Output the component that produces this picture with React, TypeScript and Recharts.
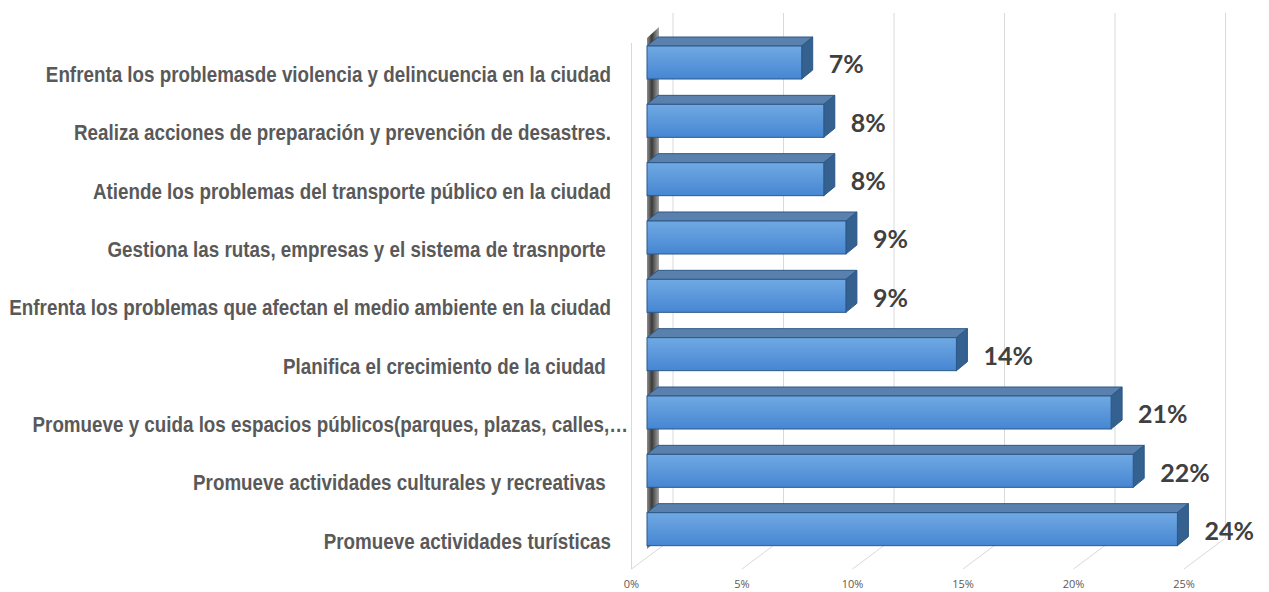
import { BarChart, Bar, XAxis, YAxis, CartesianGrid, LabelList } from 'recharts';

const categories = [
  'Enfrenta los problemasde violencia y delincuencia en la ciudad',
  'Realiza acciones de preparación y prevención de desastres.',
  'Atiende los problemas del transporte público en la ciudad',
  'Gestiona las rutas, empresas y el sistema de trasnporte ',
  'Enfrenta los problemas que afectan el medio ambiente en la ciudad',
  'Planifica el crecimiento de la ciudad ',
  'Promueve y cuida los espacios públicos(parques, plazas, calles,…',
  'Promueve actividades culturales y recreativas ',
  'Promueve actividades turísticas',
];
const values = [7, 8, 8, 9, 9, 14, 21, 22, 24];
const xTicks = [0, 5, 10, 15, 20, 25];

const chartData = categories.map((name, i) => ({ name, value: values[i] }));

// fake 3D depth
const DX = 11;
const DY = 9;

function Bar3D(props: any) {
  const { x, y, width, height, index } = props;
  const id = `front${index}`;
  return (
    <g>
      <defs>
        <linearGradient id={id} x1="0" y1="0" x2="0" y2="1">
          <stop offset="0%" stopColor="#70a9e3" />
          <stop offset="100%" stopColor="#4686d2" />
        </linearGradient>
      </defs>
      <polygon
        points={`${x},${y} ${x + DX},${y - DY} ${x + width + DX},${y - DY} ${x + width},${y}`}
        fill="#5a80ad"
        stroke="#2c5888"
        strokeWidth={1}
      />
      <polygon
        points={`${x + width},${y} ${x + width + DX},${y - DY} ${x + width + DX},${y + height - DY} ${x + width},${y + height}`}
        fill="#34618f"
        stroke="#2c5888"
        strokeWidth={1}
      />
      <rect x={x} y={y} width={width} height={height} fill={`url(#${id})`} stroke="#2c5888" strokeWidth={1} />
    </g>
  );
}

function GridLine(props: any) {
  const { x1, index } = props;
  const back = x1 + 26;
  const front = x1 - 15.5;
  return (
    <g key={`g${index}`}>
      <line x1={back} y1={13} x2={back} y2={538} stroke="#d9d9d9" strokeWidth={1} />
      <line x1={front} y1={569} x2={back} y2={538} stroke="#d9d9d9" strokeWidth={1} />
      {index === 0 && (
        <g>
          <defs>
            <linearGradient id="wall" x1="0" y1="0" x2="1" y2="0">
              <stop offset="0%" stopColor="#8c8c8c" />
              <stop offset="40%" stopColor="#3a3a3a" />
              <stop offset="100%" stopColor="#a6a6a6" />
            </linearGradient>
          </defs>
          <line x1={front} y1={43} x2={front} y2={569} stroke="#d9d9d9" strokeWidth={1} />
          <polygon points={`${x1},38 ${x1 + 12},27 ${x1 + 12},538 ${x1},549`} fill="url(#wall)" />
        </g>
      )}
    </g>
  );
}

// Arial Narrow look: Liberation Sans squeezed horizontally
function CategoryTick(props: any) {
  const { x, y, payload } = props;
  // truncated labels spill a bit further right, like Excel does
  const shift = String(payload.value).endsWith('…') ? 17 : 0;
  return (
    <g transform={`translate(${x - 36 + shift},${y + 12}) scale(0.855,1)`}>
      <text
        x={0}
        y={0}
        dy="0.35em"
        textAnchor="end"
        fill="#595959"
        fontSize={22}
        fontWeight={700}
        fontFamily="'Liberation Sans', Arial, sans-serif"
        style={{ whiteSpace: 'pre' }}
      >
        {payload.value}
      </text>
    </g>
  );
}

function PercentTick(props: any) {
  const { x, payload } = props;
  return (
    <text x={x - 15.5} y={584} dy="0.35em" textAnchor="middle" fill="#595959" fontSize={11} fontFamily="'Open Sans', sans-serif">
      {`${payload.value}%`}
    </text>
  );
}

function ValueLabel(props: any) {
  const { x, y, width, height, value } = props;
  return (
    <text
      x={x + width + 27}
      y={y + height / 2 + 2}
      dy="0.35em"
      textAnchor="start"
      fill="#404040"
      fontSize={25}
      fontWeight={700}
      fontFamily="Lato, 'Open Sans', sans-serif"
    >
      {`${value}%`}
    </text>
  );
}

export default function App() {
  return (
    <div style={{ position: 'absolute', left: 0, top: 0, width: 1269, height: 592, background: '#fff' }}>
      <BarChart
        width={1269}
        height={592}
        data={chartData}
        layout="vertical"
        margin={{ top: 33, right: 69.5, bottom: 0, left: 0 }}
        barSize={33}
      >
        <CartesianGrid horizontal={false} vertical={(p: any) => <GridLine {...p} />} />
        <XAxis
          type="number"
          domain={[0, 25]}
          ticks={xTicks}
          height={34}
          axisLine={false}
          tickLine={false}
          tick={<PercentTick />}
        />
        <YAxis
          type="category"
          dataKey="name"
          width={647}
          axisLine={false}
          tickLine={false}
          tickSize={0}
          tickMargin={0}
          interval={0}
          tick={<CategoryTick />}
        />
        <Bar dataKey="value" shape={<Bar3D />} isAnimationActive={false}>
          <LabelList dataKey="value" content={<ValueLabel />} />
        </Bar>
      </BarChart>
    </div>
  );
}
